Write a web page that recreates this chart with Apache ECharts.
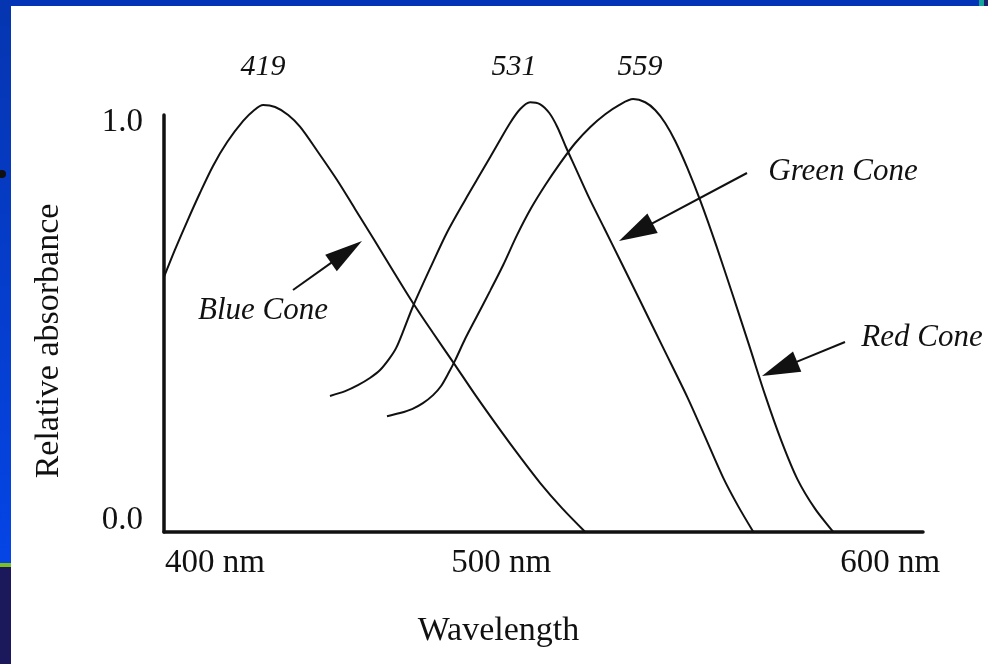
<!DOCTYPE html>
<html><head><meta charset="utf-8">
<script src="https://cdn.jsdelivr.net/npm/echarts@6/dist/echarts.min.js"></script>
<style>html,body{margin:0;padding:0;background:#fff}#c{width:988px;height:664px}</style>
</head><body><div id="c"></div>
<script>
// ---- data ----
const wavelengthTicks = [400, 500, 600];
const tickLabels = ['400 nm', '500 nm', '600 nm'];
const absorbanceTicks = [0, 1];
const peakLabels = ['419', '531', '559'];
const coneNames = ['Blue Cone', 'Green Cone', 'Red Cone'];
const xAxisTitle = 'Wavelength';
const yAxisTitle = 'Relative absorbance';

const blueCone = [[400.0,0.641],[403.0,0.709],[406.3,0.779],[409.9,0.852],[413.5,0.920],[417.4,0.980],[421.8,1.033],[424.8,1.060],[427.3,1.073],[430.6,1.068],[434.2,1.048],[437.5,1.018],[442.4,0.955],[447.7,0.884],[452.6,0.812],[457.9,0.734],[463.1,0.656],[468.6,0.575],[474.1,0.500],[479.6,0.427],[485.9,0.342],[492.6,0.256],[498.1,0.188],[503.6,0.123],[509.6,0.060],[516.0,0.000]];
const greenCone = [[445.7,0.342],[449.9,0.354],[453.4,0.369],[456.7,0.387],[459.5,0.407],[462.0,0.435],[463.9,0.462],[466.1,0.510],[468.6,0.568],[473.3,0.663],[478.0,0.754],[482.9,0.834],[487.9,0.912],[491.7,0.972],[495.3,1.028],[498.1,1.063],[500.8,1.080],[503.6,1.075],[506.1,1.053],[508.3,1.018],[510.7,0.967],[513.2,0.917],[517.1,0.839],[521.2,0.764],[525.6,0.683],[530.9,0.585],[537.5,0.462],[544.1,0.339],[549.0,0.239],[554.0,0.136],[558.1,0.065],[562.3,0.000]];
const redCone = [[461.4,0.291],[465.0,0.299],[468.3,0.309],[471.3,0.324],[474.1,0.344],[476.3,0.367],[478.2,0.397],[480.2,0.432],[482.9,0.485],[486.2,0.543],[489.8,0.606],[493.4,0.671],[497.2,0.746],[501.1,0.814],[505.0,0.872],[509.1,0.927],[513.2,0.977],[517.4,1.018],[521.5,1.050],[525.3,1.073],[529.2,1.088],[532.5,1.080],[535.3,1.060],[538.0,1.028],[540.8,0.982],[544.1,0.915],[547.7,0.832],[552.1,0.719],[556.7,0.593],[561.2,0.467],[565.6,0.342],[570.0,0.229],[574.4,0.133],[579.3,0.058],[584.3,0.000]];

// ---- layout ----
const INK = '#111';
const SERIF = '"Liberation Serif", "Times New Roman", serif';

function arrow(tail, tip, len, half) {
  const dx = tip[0] - tail[0], dy = tip[1] - tail[1];
  const L = Math.hypot(dx, dy), ux = dx / L, uy = dy / L;
  const bx = tip[0] - ux * len, by = tip[1] - uy * len;
  const px = -uy, py = ux;
  return [
    {type: 'line', shape: {x1: tail[0], y1: tail[1], x2: bx + ux * 4, y2: by + uy * 4}, style: {stroke: INK, lineWidth: 2}, z: 10},
    {type: 'polygon', shape: {points: [tip, [bx + px * half, by + py * half], [bx - px * half, by - py * half]]}, style: {fill: INK}, z: 10}
  ];
}
function txt(s, x, y, size, italic) {
  return {type: 'text', x: x, y: y, z: 10, style: {text: s, fill: INK, font: (italic ? 'italic ' : '') + size + 'px ' + SERIF, textAlign: 'center', textVerticalAlign: 'middle'}};
}

const peakPos = [[263, 67], [514, 67], [640, 67]];
const namePos = [[263, 311], [843, 172], [922, 338]];

const graphics = [
  // slide frame
  {type: 'rect', shape: {x: 0, y: 0, width: 988, height: 6}, style: {fill: '#0333b6'}, z: 1},
  {type: 'rect', shape: {x: 979, y: 0, width: 5, height: 6}, style: {fill: '#13a59a'}, z: 2},
  {type: 'rect', shape: {x: 984, y: 0, width: 4, height: 6}, style: {fill: '#1c1f6e'}, z: 2},
  {type: 'rect', shape: {x: 0, y: 0, width: 11, height: 563}, style: {fill: new echarts.graphic.LinearGradient(0, 0, 0, 1, [{offset: 0, color: '#0535b0'}, {offset: 1, color: '#0545e6'}])}, z: 1},
  {type: 'rect', shape: {x: 0, y: 563, width: 11, height: 4}, style: {fill: '#7cc21e'}, z: 1},
  {type: 'rect', shape: {x: 0, y: 567, width: 11, height: 97}, style: {fill: '#1b195c'}, z: 1},
  {type: 'circle', shape: {cx: 2, cy: 174, r: 4}, style: {fill: '#111'}, z: 2}
];
peakLabels.forEach((s, i) => graphics.push(txt(s, peakPos[i][0], peakPos[i][1], 30, true)));
coneNames.forEach((s, i) => graphics.push(txt(s, namePos[i][0], namePos[i][1], 31, true)));
graphics.push(...arrow([293, 290], [362, 241], 38, 10));
graphics.push(...arrow([747, 173], [619, 241], 38, 11));
graphics.push(...arrow([845, 342], [762, 376], 38, 11));

function curve(name, data) {
  return {name: name, type: 'line', data: data, smooth: 0.3, showSymbol: false, clip: false, silent: true,
    lineStyle: {color: INK, width: 2}, z: 5};
}

const chart = echarts.init(document.getElementById('c'), null, {renderer: 'canvas'});
chart.setOption({
  animation: false,
  backgroundColor: '#ffffff',
  grid: {left: 164, right: 65, top: 115, bottom: 132},
  xAxis: {
    type: 'value', min: 400, max: 609,
    name: xAxisTitle, nameLocation: 'middle', nameGap: 82,
    nameTextStyle: {fontFamily: SERIF, fontSize: 34, color: INK, padding: [0, 90, 0, 0]},
    axisLine: {show: true, onZero: false, lineStyle: {color: INK, width: 3.5}},
    axisTick: {show: false}, splitLine: {show: false},
    axisLabel: {
      customValues: wavelengthTicks, margin: 15, fontFamily: SERIF, fontSize: 33, color: INK,
      formatter: v => { const i = wavelengthTicks.indexOf(v); return '{t' + i + '|' + tickLabels[i] + '}'; },
      rich: {
        t0: {fontFamily: SERIF, fontSize: 33, color: INK, padding: [0, 0, 0, 102]},
        t1: {fontFamily: SERIF, fontSize: 33, color: INK, padding: [0, 52, 0, 0]},
        t2: {fontFamily: SERIF, fontSize: 33, color: INK}
      }
    }
  },
  yAxis: {
    type: 'value', min: 0, max: 1.048,
    name: yAxisTitle, nameLocation: 'middle', nameGap: 98, nameRotate: 90,
    nameTextStyle: {fontFamily: SERIF, fontSize: 34, color: INK, padding: [0, 35, 0, 0]},
    axisLine: {show: true, lineStyle: {color: INK, width: 3.5}},
    axisTick: {show: false}, splitLine: {show: false},
    axisLabel: {customValues: absorbanceTicks, margin: 21, fontFamily: SERIF, fontSize: 33, color: INK,
      verticalAlign: 'bottom', lineHeight: 23, formatter: v => v.toFixed(1)}
  },
  series: [curve(coneNames[0], blueCone), curve(coneNames[1], greenCone), curve(coneNames[2], redCone)],
  graphic: graphics
});
</script></body></html>
